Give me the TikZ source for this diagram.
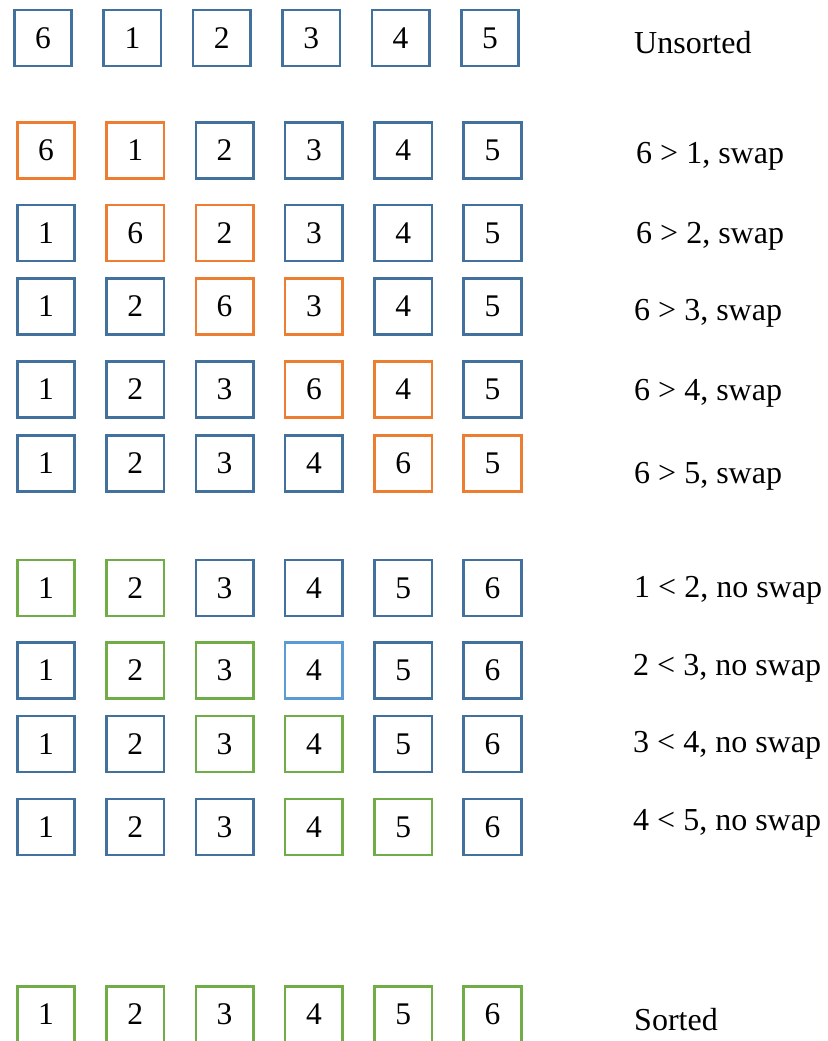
\documentclass[tikz,border=0pt]{standalone}
\usepackage{fontspec}
\setmainfont{Liberation Serif}
\usepackage{xcolor}
\usepackage{tikz}
\usetikzlibrary{positioning}

\definecolor{cellblue}{HTML}{41719C}
\definecolor{cellorange}{HTML}{ED7D31}
\definecolor{cellgreen}{HTML}{70AD47}
\definecolor{celllight}{HTML}{5B9BD5}

\begin{document}
\begin{tikzpicture}[x=1pt, y=-1pt,
  cell/.style={rectangle, draw=#1, line width=2.6pt, minimum width=57.5pt, minimum height=56pt, inner sep=0pt, font=\fontsize{31.5}{31.5}\selectfont},
  note/.style={anchor=base west, inner sep=0pt, font=\fontsize{32}{32}\selectfont}]
\useasboundingbox (0,0) rectangle (827,1041);
% unsorted row
\foreach \v/\c [count=\k] in {6/cellblue,1/cellblue,2/cellblue,3/cellblue,4/cellblue,5/cellblue}
  \node[cell=\c] (a\k) at ({43+89.4*(\k-1)},38) {\v};
\node[note] (la) at (634,53) {Unsorted};
% first pass, 6 moves right
\foreach \v/\c [count=\k] in {6/cellorange,1/cellorange,2/cellblue,3/cellblue,4/cellblue,5/cellblue}
  \node[cell=\c] (b\k) at ({46+89.3*(\k-1)},150.5) {\v};
\node[note] (lb) at (636,163) {6 > 1, swap};
\foreach \v/\c [count=\k] in {1/cellblue,6/cellorange,2/cellorange,3/cellblue,4/cellblue,5/cellblue}
  \node[cell=\c] (c\k) at ({46+89.3*(\k-1)},233) {\v};
\node[note] (lc) at (636,243) {6 > 2, swap};
\foreach \v/\c [count=\k] in {1/cellblue,2/cellblue,6/cellorange,3/cellorange,4/cellblue,5/cellblue}
  \node[cell=\c] (d\k) at ({46+89.3*(\k-1)},306.5) {\v};
\node[note] (ld) at (634,320) {6 > 3, swap};
\foreach \v/\c [count=\k] in {1/cellblue,2/cellblue,3/cellblue,6/cellorange,4/cellorange,5/cellblue}
  \node[cell=\c] (e\k) at ({46+89.3*(\k-1)},389.5) {\v};
\node[note] (le) at (634,400) {6 > 4, swap};
\foreach \v/\c [count=\k] in {1/cellblue,2/cellblue,3/cellblue,4/cellblue,6/cellorange,5/cellorange}
  \node[cell=\c] (f\k) at ({46+89.3*(\k-1)},463.5) {\v};
\node[note] (lf) at (634,483) {6 > 5, swap};
% second pass, nothing moves
\foreach \v/\c [count=\k] in {1/cellgreen,2/cellgreen,3/cellblue,4/cellblue,5/cellblue,6/cellblue}
  \node[cell=\c] (g\k) at ({46+89.3*(\k-1)},588) {\v};
\node[note] (lg) at (634,597) {1 < 2, no swap};
\foreach \v/\c [count=\k] in {1/cellblue,2/cellgreen,3/cellgreen,4/celllight,5/cellblue,6/cellblue}
  \node[cell=\c] (h\k) at ({46+89.3*(\k-1)},670.5) {\v};
\node[note] (lh) at (633,675) {2 < 3, no swap};
\foreach \v/\c [count=\k] in {1/cellblue,2/cellblue,3/cellgreen,4/cellgreen,5/cellblue,6/cellblue}
  \node[cell=\c] (i\k) at ({46+89.3*(\k-1)},744) {\v};
\node[note] (li) at (633,752) {3 < 4, no swap};
\foreach \v/\c [count=\k] in {1/cellblue,2/cellblue,3/cellblue,4/cellgreen,5/cellgreen,6/cellblue}
  \node[cell=\c] (j\k) at ({46+89.3*(\k-1)},827) {\v};
\node[note] (lj) at (633,830) {4 < 5, no swap};
% sorted row
\foreach \v [count=\k] in {1,2,3,4,5,6}
  \node[cell=cellgreen] (k\k) at ({46+89.3*(\k-1)},1014.5) {\v};
\node[note] (lk) at (634,1030) {Sorted};
\end{tikzpicture}
\end{document}
